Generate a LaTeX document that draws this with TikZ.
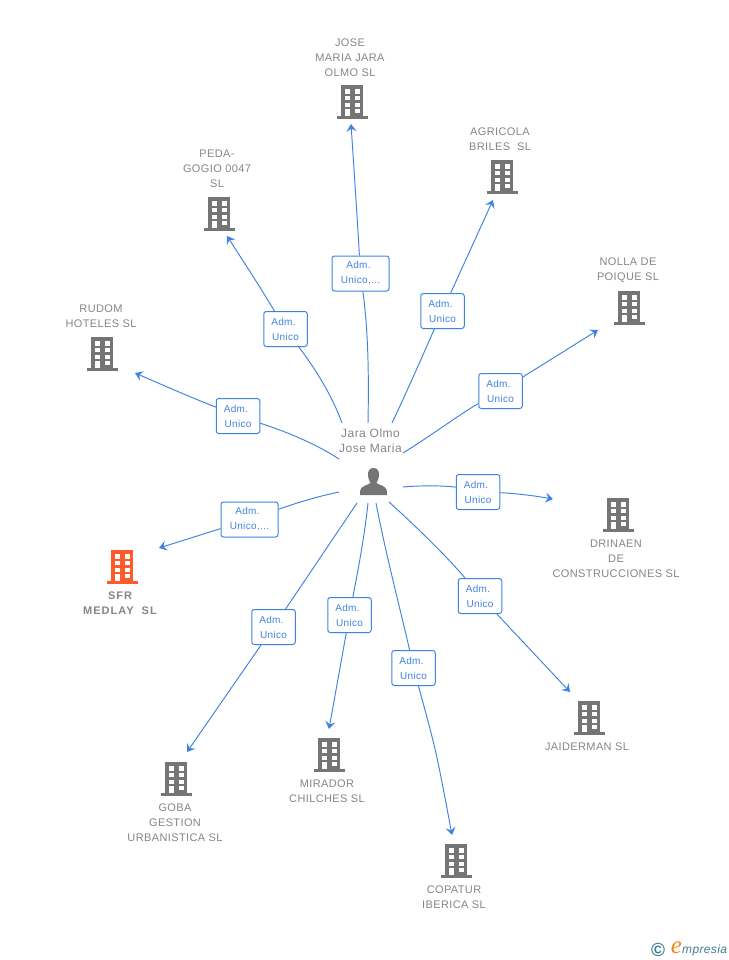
\documentclass[tikz,border=0pt]{standalone}
\usepackage{fontspec}
\setmainfont{Liberation Sans}
\newfontfamily\logofont{Liberation Serif}
\newfontfamily\namefont[LetterSpace=3.5]{Liberation Sans}
\newfontfamily\boldnamefont[LetterSpace=9,BoldFont={Liberation Sans Bold}]{Liberation Sans Bold}
\newfontfamily\personfont[LetterSpace=4]{Liberation Sans}
\newfontfamily\rolefont[LetterSpace=3.5]{Liberation Sans}
\newfontfamily\logosans[LetterSpace=3]{Liberation Sans Italic}
\usetikzlibrary{arrows.meta,backgrounds}
\definecolor{linkblue}{HTML}{3F83E0}
\definecolor{labelgray}{HTML}{868686}
\definecolor{icongray}{HTML}{757575}
\definecolor{hotorange}{HTML}{FF5A2C}
\definecolor{logoteal}{HTML}{3E7F96}
\definecolor{logoorange}{HTML}{F08A1D}
\tikzset{
  x=1pt,y=-1pt,
  conn/.style={draw=linkblue,line width=0.95pt},
  connarrow/.style={conn,-{Stealth[length=7.5pt,width=10pt,inset=2.8pt]}},
  rolebox/.style={draw=linkblue,line width=1pt,rounded corners=2.5pt,fill=white,text=linkblue,
    font=\rolefont\fontsize{10}{15}\selectfont,align=center,minimum height=35pt,inner sep=0pt},
  roleshort/.style={rolebox,minimum width=43.5pt},
  rolelong/.style={rolebox,minimum width=57pt},
  compname/.style={text=labelgray,font=\namefont\fontsize{11}{15}\selectfont,align=center,inner sep=0pt},
  hotname/.style={text=labelgray,font=\boldnamefont\fontsize{11}{15}\selectfont,align=center,inner sep=0pt},
  personname/.style={text=labelgray,font=\personfont\fontsize{12}{15}\selectfont,align=center,inner sep=0pt},
}
\newcommand{\admline}{Adm.\hspace*{4pt}}
% building icon: #1 centre x, #2 top y, #3 colour
\newcommand{\bldg}[3]{%
  \begin{scope}[shift={(#1,#2)}]
    \fill[#3] (-11,0) rectangle (11.3,32);
    \fill[#3] (-15.5,31) rectangle (16.3,34.3);
    \foreach \wy in {4.3,11,17.7}{
      \fill[white] (-7,\wy) rectangle (-2,\wy+4.4);
      \fill[white] (2.5,\wy) rectangle (8,\wy+4.4);
    }
    \fill[white] (-7,24.3) rectangle (-2,31);
    \fill[white] (2.5,24.3) rectangle (8,28.3);
  \end{scope}}
\begin{document}
\begin{tikzpicture}
\useasboundingbox (0,0) rectangle (728,960);

% free ends
\coordinate (sJose) at (368,423); \coordinate (tJose) at (351,124);
\coordinate (sAgri) at (392,423); \coordinate (tAgri) at (493,200);
\coordinate (sNoll) at (403,453); \coordinate (tNoll) at (598,330);
\coordinate (sPeda) at (342,423); \coordinate (tPeda) at (227,236);
\coordinate (sRudo) at (339,459); \coordinate (tRudo) at (135,373);
\coordinate (sSfrm) at (339,492); \coordinate (tSfrm) at (159,548);
\coordinate (sDrin) at (403,487); \coordinate (tDrin) at (553,499);
\coordinate (sJaid) at (389,502); \coordinate (tJaid) at (570,692);
\coordinate (sCopa) at (376,503); \coordinate (tCopa) at (452,835);
\coordinate (sMira) at (368,503); \coordinate (tMira) at (329,729);
\coordinate (sGoba) at (357,503); \coordinate (tGoba) at (187,752);

% role labels
\node[rolelong]  (lJose) at (360.5,273.5) {\admline\\Unico,...};
\node[roleshort] (lAgri) at (442.5,311) {\admline\\Unico};
\node[roleshort] (lNoll) at (500.5,391) {\admline\\Unico};
\node[roleshort] (lPeda) at (285.5,329) {\admline\\Unico};
\node[roleshort] (lRudo) at (238,416) {\admline\\Unico};
\node[rolelong]  (lSfrm) at (249.5,519.5) {\admline\\Unico,...};
\node[roleshort] (lDrin) at (478,492) {\admline\\Unico};
\node[roleshort] (lJaid) at (480,596) {\admline\\Unico};
\node[roleshort] (lCopa) at (413.5,668) {\admline\\Unico};
\node[roleshort] (lMira) at (349.5,615) {\admline\\Unico};
\node[roleshort] (lGoba) at (273.5,627) {\admline\\Unico};

% connectors, beneath the labels
\begin{scope}[on background layer]
\fill[white] (0,0) rectangle (728,960);
\draw[conn] (sJose) .. controls (369,370) and (368,330) .. (lJose);
\draw[connarrow] (lJose) .. controls (357,215) .. (tJose);
\draw[conn] (sAgri) .. controls (410,385) and (425,350) .. (lAgri);
\draw[connarrow] (lAgri) -- (tAgri);
\draw[conn] (sNoll) .. controls (435,433) and (460,414) .. (lNoll);
\draw[connarrow] (lNoll) -- (tNoll);
\draw[conn] (sPeda) .. controls (330,390) and (310,362) .. (lPeda);
\draw[connarrow] (lPeda) .. controls (258,284) .. (tPeda);
\draw[conn] (sRudo) .. controls (310,440) and (275,428) .. (lRudo);
\draw[connarrow] (lRudo) .. controls (188,396) .. (tRudo);
\draw[conn] (sSfrm) .. controls (310,498) and (285,507) .. (lSfrm);
\draw[connarrow] (lSfrm) -- (tSfrm);
\draw[conn] (sDrin) .. controls (425,485) and (450,486) .. (lDrin);
\draw[connarrow] (lDrin) .. controls (510,493) and (530,495) .. (tDrin);
\draw[conn] (sJaid) .. controls (420,530) and (450,560) .. (lJaid);
\draw[connarrow] (lJaid) -- (tJaid);
\draw[conn] (sCopa) .. controls (387,560) and (403,620) .. (lCopa);
\draw[connarrow] (lCopa) .. controls (436,750) .. (tCopa);
\draw[conn] (sMira) .. controls (364,540) and (358,570) .. (lMira);
\draw[connarrow] (lMira) -- (tMira);
\draw[conn] (sGoba) -- (lGoba);
\draw[connarrow] (lGoba) -- (tGoba);
\end{scope}

% buildings
\bldg{352}{85}{icongray}
\bldg{502}{160}{icongray}
\bldg{629}{291}{icongray}
\bldg{219}{197}{icongray}
\bldg{102}{337}{icongray}
\bldg{122}{550}{hotorange}
\bldg{618}{498}{icongray}
\bldg{589}{701}{icongray}
\bldg{329}{738}{icongray}
\bldg{176}{762}{icongray}
\bldg{456}{844}{icongray}

% names
\node[compname] (nJose) at (350,57.5) {JOSE\\MARIA JARA\\OLMO SL};
\node[compname] (nAgri) at (500,139.5) {AGRICOLA\\BRILES\ \ SL};
\node[compname] (nNoll) at (628,270) {NOLLA DE\\POIQUE SL};
\node[compname] (nPeda) at (217,168.5) {PEDA-\\GOGIO 0047\\SL};
\node[compname] (nRudo) at (101,316.5) {RUDOM\\HOTELES SL};
\node[hotname] (nSfrm) at (120,603.5) {SFR\\MEDLAY\ \ SL};
\node[compname] (nDrin) at (616,559) {DRINAEN\\DE\\CONSTRUCCIONES SL};
\node[compname] (nJaid) at (587,747) {JAIDERMAN SL};
\node[compname] (nMira) at (327,791.5) {MIRADOR\\CHILCHES SL};
\node[compname] (nGoba) at (175,823) {GOBA\\GESTION\\URBANISTICA SL};
\node[compname] (nCopa) at (454,897.5) {COPATUR\\IBERICA SL};
\node[personname] (nPers) at (370.5,441) {Jara Olmo\\Jose Maria};

% person icon
\fill[icongray] (373.5,468) .. controls (369.5,468) and (367.8,471) .. (368,475)
  .. controls (368.2,479) and (369.5,481) .. (370.5,483)
  .. controls (368,485) and (361,486) .. (360.3,490) -- (360,495) -- (387,495) -- (386.7,490)
  .. controls (386,486) and (379,485) .. (376.5,483)
  .. controls (377.5,481) and (378.8,479) .. (379,475)
  .. controls (379.2,471) and (377.5,468) .. (373.5,468) -- cycle;

% logo
\node[text=logoteal,inner sep=0pt,font=\bfseries\fontsize{19}{19}\selectfont] (logoC) at (658,949.5) {©};
\node[text=logoorange,inner sep=0pt,font=\logofont\itshape\fontsize{25}{25}\selectfont] (logoE) at (676.5,948) {e};
\node[text=logoteal,inner sep=0pt,anchor=west,font=\logosans\fontsize{12}{12}\selectfont] (logoT) at (682,950) {mpresia};
\end{tikzpicture}
\end{document}
